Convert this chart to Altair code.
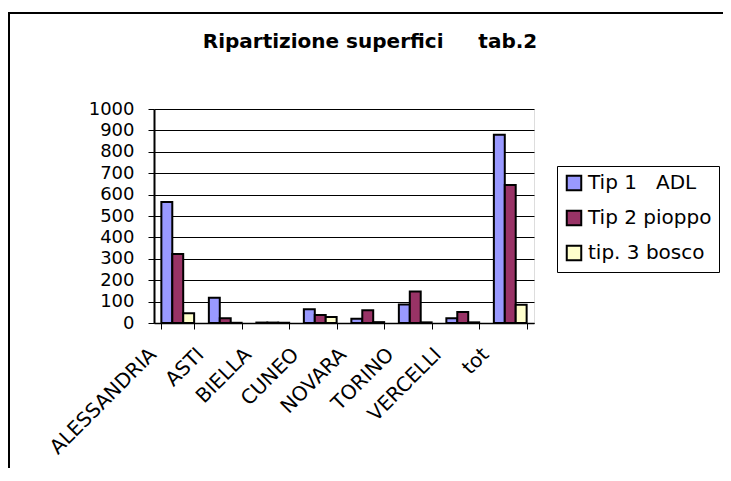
import altair as alt
import pandas as pd

provinces = ["ALESSANDRIA", "ASTI", "BIELLA", "CUNEO", "NOVARA", "TORINO", "VERCELLI", "tot"]
series = ["Tip 1\u00a0\u00a0\u00a0ADL", "Tip 2 pioppo", "tip. 3 bosco"]
tip1 = [565, 118, 2, 64, 20, 87, 22, 880]
tip2 = [322, 22, 2, 37, 59, 147, 51, 645]
tip3 = [45, 1, 1, 28, 4, 3, 3, 85]
colors = ["#9999FF", "#993366", "#FFFFCC"]
y_ticks = list(range(0, 1001, 100))
title_text = ["Ripartizione superfici\u00a0\u00a0\u00a0\u00a0\u00a0tab.2"]

rows = []
for s, vals in zip(series, [tip1, tip2, tip3]):
    for p, v in zip(provinces, vals):
        rows.append({"provincia": p, "serie": s, "valore": v})
df = pd.DataFrame(rows)

FONT = "DejaVu Sans"

bars = alt.Chart(df).mark_bar(stroke="black", strokeWidth=2).encode(
    x=alt.X(
        "provincia:N",
        sort=provinces,
        scale=alt.Scale(paddingInner=0.31, paddingOuter=0.155),
        axis=alt.Axis(
            title=None,
            labelAngle=-45,
            labelAlign="right",
            labelBaseline="middle",
            labelFont=FONT,
            labelFontSize=20,
            labelColor="black",
            labelOffset=-25,
            labelPadding=22,
            tickBand="extent",
            tickSize=6,
            tickColor="black",
            tickWidth=1,
            domainColor="black",
            domainWidth=1.5,
            grid=False,
        ),
    ),
    xOffset=alt.XOffset("serie:N", sort=series, scale=alt.Scale(paddingInner=0, paddingOuter=0)),
    y=alt.Y(
        "valore:Q",
        scale=alt.Scale(domain=[0, 1000], nice=False),
        axis=alt.Axis(
            title=None,
            values=y_ticks,
            format="d",
            labelFont=FONT,
            labelFontSize=18,
            labelColor="black",
            labelPadding=14,
            tickSize=6,
            tickColor="black",
            domainColor="black",
            domainWidth=2,
            grid=True,
            gridColor="black",
            gridWidth=1,
            gridOpacity=1,
        ),
    ),
    color=alt.Color(
        "serie:N",
        sort=series,
        scale=alt.Scale(domain=series, range=colors),
        legend=alt.Legend(
            title=None,
            orient="none",
            legendX=403,
            legendY=57,
            strokeColor="black",
            fillColor="white",
            padding=7,
            symbolType="square",
            symbolSize=210,
            symbolStrokeColor="black",
            symbolStrokeWidth=2,
            symbolOpacity=1,
            labelFont=FONT,
            labelFontSize=20,
            labelColor="black",
            labelLimit=300,
            rowPadding=11,
        ),
    ),
)

frame = alt.Chart(pd.DataFrame({"k": [0]})).mark_rect(
    fillOpacity=0, stroke="black", strokeWidth=2
).encode(
    x=alt.value(-145), x2=alt.value(800), y=alt.value(-96), y2=alt.value(600)
)

title = alt.Chart(pd.DataFrame({"t": title_text})).mark_text(
    font=FONT, fontSize=20, fontWeight="bold", align="center", baseline="alphabetic", color="black"
).encode(
    text="t:N", x=alt.value(216), y=alt.value(-61)
)

chart = alt.layer(frame, bars, title).properties(
    width=380,
    height=214,
    autosize=alt.AutoSizeParams(type="none"),
    padding={"left": 146, "top": 101, "right": 189, "bottom": 145},
).configure_view(
    fill="#C0C0C0", stroke="#808080", strokeWidth=2
).configure(background="white")

chart.save("out.html", embed_options={"renderer": "svg", "actions": False})
